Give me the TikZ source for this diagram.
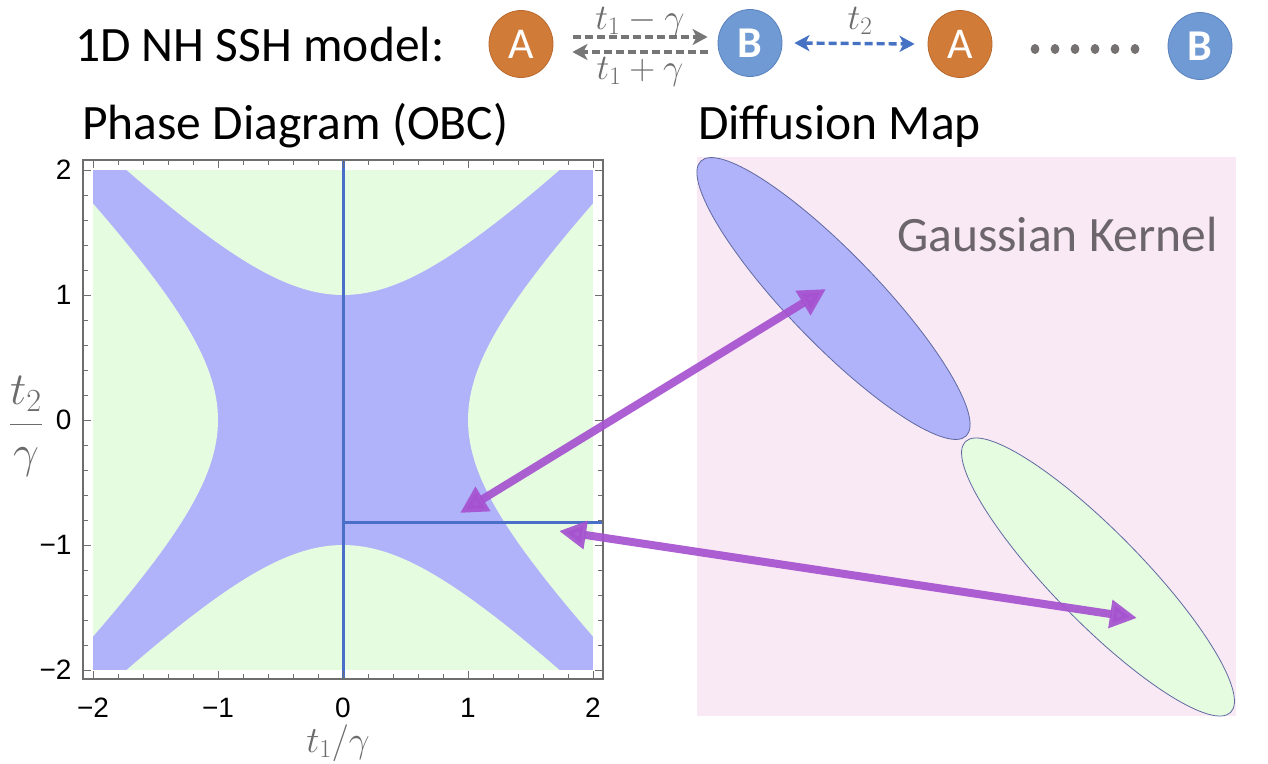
\RequirePackage{fix-cm}
\documentclass[tikz,border=0pt]{standalone}
\usepackage{fontspec}
\setmainfont{Carlito}
\newfontfamily\arialf{Liberation Sans}
\usetikzlibrary{arrows.meta,shapes.geometric,calc}
\definecolor{corange}{RGB}{209,123,57}
\definecolor{corangeD}{RGB}{185,105,45}
\definecolor{cblue}{RGB}{112,154,211}
\definecolor{cblueD}{RGB}{90,130,190}
\definecolor{chop}{RGB}{118,118,118}
\definecolor{chop2}{RGB}{70,114,196}
\definecolor{cdots}{RGB}{118,113,113}
\definecolor{pblue}{RGB}{176,178,250}
\definecolor{pgreen}{RGB}{229,252,224}
\definecolor{pline}{RGB}{74,111,200}
\definecolor{pframe}{RGB}{110,110,110}
\definecolor{cpink}{RGB}{249,233,245}
\definecolor{cedge}{RGB}{95,105,160}
\definecolor{cpurple}{RGB}{166,82,208}
\definecolor{ckernel}{RGB}{108,102,108}
\definecolor{cmath}{RGB}{108,108,108}
\tikzset{
  titletext/.style={font=\fontsize{49.5}{55}\selectfont, anchor=base west, inner sep=0pt},
  site/.style={ellipse, minimum width=64pt, minimum height=67pt, inner sep=0pt, text=white, line width=0.8pt},
  siteA/.style={site, fill=corange, draw=corangeD, font=\fontsize{44}{50}\selectfont},
  siteB/.style={site, fill=cblue, draw=cblueD, font=\fontsize{44}{50}\selectfont\bfseries},
  hopg/.style={draw=chop, line width=3.6pt, dash pattern=on 8pt off 4pt},
  hopb/.style={draw=chop2, line width=3.4pt, dash pattern=on 8pt off 4pt},
  hoplab/.style={text=cmath, font=\fontsize{36}{40}\selectfont, inner sep=0pt},
  ticklab/.style={font=\arialf\fontsize{28}{32}\selectfont, inner sep=0pt},
  tickmark/.style={draw=pframe, line width=1pt},
  axlab/.style={text=cmath, font=\fontsize{37}{42}\selectfont, inner sep=0pt},
  cluster/.style={ellipse, inner sep=0pt, draw=cedge, line width=0.8pt},
  link/.style={draw=cpurple, line width=8pt, opacity=0.92,
     {Triangle[length=27pt,width=27pt]}-{Triangle[length=27pt,width=27pt]}},
}
\begin{document}
\begin{tikzpicture}[x=1pt,y=-1pt]
\useasboundingbox (0,0) rectangle (1268,763);

% ---------------- phase diagram ----------------
\begin{scope}[shift={(343,420)}, x=125pt, y=125pt]
  \fill[pblue] (-2,-2) rectangle (2,2);
  \fill[pgreen] plot[domain=-1.7320508:1.7320508, samples=70] (\x,{sqrt(1+\x*\x)}) -- cycle;
  \fill[pgreen] plot[domain=-1.7320508:1.7320508, samples=70] (\x,{-sqrt(1+\x*\x)}) -- cycle;
  \fill[pgreen] plot[domain=-1.7320508:1.7320508, samples=70] ({sqrt(1+\x*\x)},\x) -- cycle;
  \fill[pgreen] plot[domain=-1.7320508:1.7320508, samples=70] ({-sqrt(1+\x*\x)},\x) -- cycle;
  \draw[pline, line width=3pt] (0,-2.072) -- (0,2.08);
  \draw[pline, line width=3pt] (0,-0.816) -- (2.08,-0.816);
  \draw[pframe, line width=1.2pt] (-2.08,-2.072) rectangle (2.08,2.08);
  \foreach \i in {0,...,20}{
    \pgfmathsetmacro{\v}{-2+0.2*\i}
    \pgfmathsetmacro{\tl}{mod(\i,5)==0 ? 0.066 : 0.042}
    \draw[tickmark] (\v,-2.072) -- ++(0,\tl);
    \draw[tickmark] (\v,2.08) -- ++(0,-\tl);
    \draw[tickmark] (-2.08,\v) -- ++(\tl,0);
    \draw[tickmark] (2.08,\v) -- ++(-\tl,0);
  }
  \foreach \v/\s [count=\k] in {-2/−2,-1/−1,0/0,1/1,2/2}{
    \node[ticklab] (xt\k) at (\v,-2.304) {\s};
    \node[ticklab, anchor=east] (yt\k) at (-2.17,\v) {\s};
  }
\end{scope}
\node[axlab] (xlab) at (338,743) {$t_1/\gamma$};
\node[axlab, font=\fontsize{46}{50}\selectfont] (ylab) at (26,426) {$\displaystyle\frac{t_2}{\gamma}$};

% ---------------- diffusion map ----------------
\node[fill=cpink, minimum width=539pt, minimum height=559pt, inner sep=0pt, anchor=north west] (dmap) at (697,157) {};
\node[cluster, fill=pblue, minimum width=382pt, minimum height=90pt, rotate=-46] (clA) at (833.5,298.5) {};
\node[cluster, fill=pgreen, minimum width=379pt, minimum height=90pt, rotate=-45.6] (clB) at (1098,577) {};
\node[titletext, text=ckernel] (kern) at (897,251) {Gaussian Kernel};

% ---------------- links ----------------
\coordinate (pa) at (460,513);
\coordinate (pb) at (826,289);
\coordinate (qa) at (559,531);
\coordinate (qb) at (1137,618);
\draw[link] (pa) -- (pb);
\draw[link] (qa) -- (qb);

% ---------------- titles ----------------
\node[titletext] (ttop) at (75,61) {1D NH SSH model:};
\node[titletext] (tpd) at (82,139) {Phase Diagram (OBC)};
\node[titletext] (tdm) at (698,139) {Diffusion Map};

% ---------------- SSH chain ----------------
\node[siteA] (A1) at (521,44) {A};
\node[siteB] (B1) at (750,43) {B};
\node[siteA] (A2) at (960,44) {A};
\node[siteB] (B2) at (1200,46) {B};
\draw[hopg, -{Stealth[length=15pt,width=16pt,inset=4pt]}] ([shift={(20,-7)}]A1.east) -- ([shift={(-10,-6)}]B1.west);
\draw[hopg, -{Stealth[length=15pt,width=16pt,inset=4pt]}] ([shift={(-10,9)}]B1.west) -- ([shift={(19,8)}]A1.east);
\node[hoplab] (l1) at (640,22) {$t_1-\gamma$};
\node[hoplab] (l2) at (640,72) {$t_1+\gamma$};
\draw[hopb, {Stealth[length=15pt,width=16pt,inset=4pt]}-{Stealth[length=15pt,width=16pt,inset=4pt]}] ([xshift=12]B1.east) -- ([xshift=-13]A2.west);
\node[hoplab] (l3) at (860,21) {$t_2$};
\foreach \i in {0,...,5}{
  \fill[cdots] (1035+20*\i,49) ellipse [x radius=4.4pt, y radius=5pt];
}
\end{tikzpicture}
\end{document}
